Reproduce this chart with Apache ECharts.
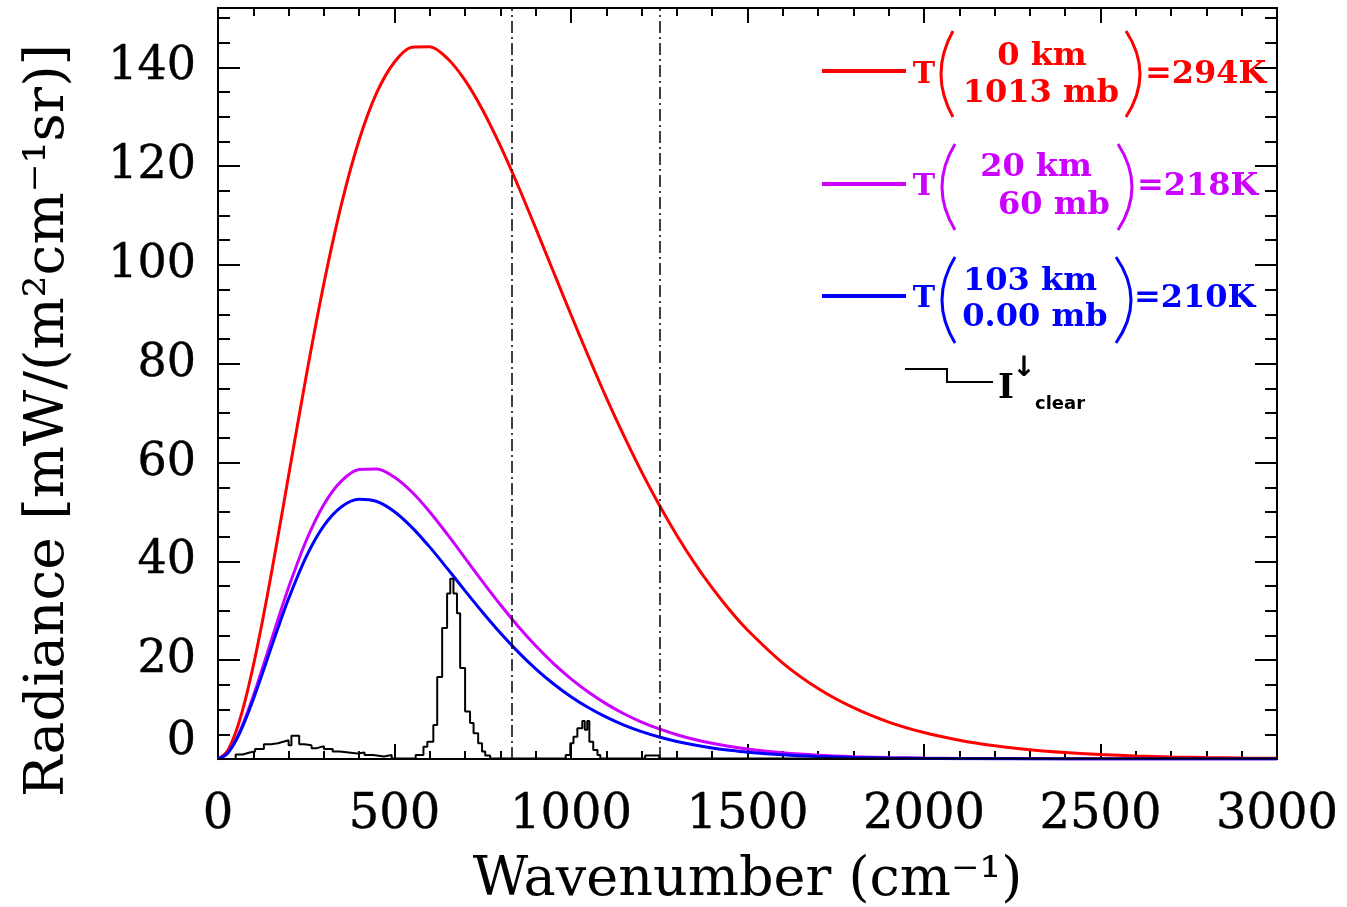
<!DOCTYPE html>
<html>
<head>
<meta charset="utf-8">
<script src="https://cdn.jsdelivr.net/npm/echarts@6/dist/echarts.min.js"></script>
<style>
html,body{margin:0;padding:0;background:#ffffff;}
#chart{width:1347px;height:907px;}
</style>
</head>
<body>
<div id="chart"></div>
<script>
// ---------------- data ----------------
const wavenumber = [0,25,50,75,100,125,150,175,200,250,300,350,400,450,500,550,600,650,700,750,800,850,900,950,1000,1050,1100,1150,1200,1250,1300,1350,1400,1450,1500,1600,1700,1800,1900,2000,2100,2200,2300,2400,2500,2600,2700,2800,2900,3000];
const radiance294K = [0,1.43,5.37,11.33,18.87,27.58,37.09,47.12,57.36,77.57,96.24,112.36,125.32,134.90,141.07,144.06,144.15,141.78,137.35,131.32,124.09,116.03,107.44,98.67,89.92,81.37,73.15,65.39,58.12,51.41,45.25,39.66,34.63,30.11,26.10,19.41,14.27,10.39,7.48,5.35,3.80,2.68,1.88,1.31,0.91,0.62,0.43,0.29,0.20,0.14];
const radiance218K = [0,1.04,3.81,7.85,12.74,18.15,23.77,29.36,34.73,44.23,51.51,56.28,58.58,58.69,57.02,53.98,50.00,45.45,40.65,35.85,31.21,26.88,22.91,19.36,16.23,13.50,11.16,9.16,7.48,6.08,4.92,3.96,3.17,2.54,2.02,1.27,0.78,0.48,0.29,0.18,0.11,0.06,0.04,0.02,0.01,0.01,0,0,0,0];
const radiance210K = [0,1.00,3.64,7.48,12.10,17.17,22.40,27.55,32.45,40.95,47.22,51.06,52.58,52.11,50.05,46.84,42.88,38.52,34.03,29.65,25.50,21.69,18.26,15.24,12.62,10.36,8.46,6.86,5.53,4.44,3.55,2.82,2.23,1.76,1.38,0.85,0.51,0.31,0.18,0.11,0.06,0.04,0.02,0.01,0.01,0,0,0,0,0];
// clear-sky downward spectrum (step histogram: bin start -> value)
const clearNu = [0,50,70,90,105,130,150,170,190,200,208,230,245,265,280,300,325,345,370,395,415,440,470,492,560,582,593,610,621,635,649,658,667,677,686,700,714,724,737,748,757,771,985,998,1007,1018,1032,1039,1046,1052,1063,1075,1083,1210,1250,3000];
const clearRadiance = [0,0.9,1.3,1.5,2.0,3.0,3.2,3.6,3.8,2.8,4.7,3.0,2.8,2.2,2.6,2.0,1.5,1.3,1.1,1.3,0.8,0.5,0.8,0.1,0.8,2.5,3.5,6.9,16.6,26.5,33.5,36.5,33.5,29.5,18.4,9.6,7.3,5.2,3.2,1.5,0.7,0.1,0.8,3.2,4.5,6.2,7.7,5.9,7.7,3.5,1.8,0.8,0.1,0.7,0.1,0.1];
const windowEdges = [833.3, 1250];
const xRange = [0, 3000];
const yRange = [0, 152];
const xMajor = 500, yMajor = 20, yMinor = 5;
const legendAltitude = ['0 km', '20 km', '103 km'];
const legendPressure = ['1013 mb', '60 mb', '0.00 mb'];
const legendTemperature = ['=294K', '=218K', '=210K'];
const legendClear = ['I', '↓', 'clear'];
const xTitle = 'Wavenumber (cm\u207B\u00B9)';
const yTitle = 'Radiance [mW/(m\u00B2cm\u207B\u00B9sr)]';

// ---------------- styles ----------------
const seriesColors = ['#ff0000', '#cc00ff', '#0000ff'];
const labelFont = 'DejaVu Serif';
const titleFont = 'DejaVu Serif';

function yAxisCfg(pos, interval, tickLen, withLabels) {
  const ax = {
    type: 'value', position: pos, min: yRange[0], max: yRange[1], interval: interval,
    axisLine: {show: true, onZero: false, lineStyle: {color: '#000', width: 2}},
    axisTick: {show: true, inside: true, length: tickLen, lineStyle: {color: '#000', width: 2}},
    splitLine: {show: false},
    axisLabel: {show: false}
  };
  if (withLabels) {
    ax.axisLabel = {
      show: true, margin: 22, showMaxLabel: false,
      fontFamily: labelFont, fontSize: 46, color: '#000',
      textBorderColor: '#000', textBorderWidth: 0.4,
      formatter: function (v) { if (v === 0) return '{z|0}'; return (v % yMajor === 0) ? String(v) : ''; },
      rich: {z: {fontFamily: labelFont, fontSize: 46, color: '#000', textBorderColor: '#000', textBorderWidth: 0.4, padding: [0, 0, 34, 0]}}
    };
    ax.name = yTitle;
    ax.nameLocation = 'middle';
    ax.nameRotate = 90;
    ax.nameGap = 142;
    ax.nameTextStyle = {fontFamily: titleFont, fontSize: 55, color: '#000', padding: [0, 74, 0, 0]};
  }
  return ax;
}
function xAxisCfg(pos, withLabels) {
  const ax = {
    type: 'value', position: pos, min: xRange[0], max: xRange[1], interval: xMajor,
    axisLine: {show: true, onZero: false, lineStyle: {color: '#000', width: 2}},
    axisTick: {show: true, inside: true, length: 15, lineStyle: {color: '#000', width: 2}},
    minorTick: {show: true, splitNumber: 5, length: 8, lineStyle: {color: '#000', width: 2}},
    splitLine: {show: false}, minorSplitLine: {show: false},
    axisLabel: {show: false}
  };
  if (withLabels) {
    ax.axisLabel = {show: true, margin: 33, fontFamily: labelFont, fontSize: 48, color: '#000',
      textBorderColor: '#000', textBorderWidth: 0.4,
      formatter: function (v) { return String(v); }};
    ax.name = xTitle;
    ax.nameLocation = 'middle';
    ax.nameGap = 95;
    ax.nameTextStyle = {fontFamily: titleFont, fontSize: 54, color: '#000'};
  }
  return ax;
}

// ---------------- legend (decorative graphic) ----------------
const legendRows = [
  {lineY: 71, top: 31, bottom: 117, lp: 953, lb: 941, rp: 1126, rb: 1140, altX: 1042, altY: 57, presX: 1041, presY: 94, tY: 75, eqX: 1145},
  {lineY: 184, top: 144, bottom: 230, lp: 955, lb: 942, rp: 1118, rb: 1132, altX: 1036, altY: 168, presX: 1054, presY: 206, tY: 187, eqX: 1137},
  {lineY: 296, top: 257, bottom: 343, lp: 955, lb: 942, rp: 1116, rb: 1131, altX: 1030, altY: 282, presX: 1035, presY: 318, tY: 299, eqX: 1134}
];
const graphics = [];
const lf = 'bold 32px "DejaVu Serif"';
legendRows.forEach(function (r, i) {
  const c = seriesColors[i];
  graphics.push({type: 'line', shape: {x1: 822, y1: r.lineY, x2: 906, y2: r.lineY}, style: {stroke: c, lineWidth: 4}});
  graphics.push({type: 'text', x: 924, y: r.tY, style: {text: 'T', font: 'bold 30px "DejaVu Serif"', fill: c, textAlign: 'center', textVerticalAlign: 'middle', align: 'center', verticalAlign: 'middle'}});
  const midY = (r.top + r.bottom) / 2;
  graphics.push({type: 'bezierCurve', shape: {x1: r.lp, y1: r.top, x2: r.lp, y2: r.bottom, cpx1: 2 * r.lb - r.lp, cpy1: midY}, style: {stroke: c, lineWidth: 3, fill: null}});
  graphics.push({type: 'bezierCurve', shape: {x1: r.rp, y1: r.top, x2: r.rp, y2: r.bottom, cpx1: 2 * r.rb - r.rp, cpy1: midY}, style: {stroke: c, lineWidth: 3, fill: null}});
  graphics.push({type: 'text', x: r.altX, y: r.altY, style: {text: legendAltitude[i], font: lf, fill: c, textAlign: 'center', textVerticalAlign: 'middle', align: 'center', verticalAlign: 'middle'}});
  graphics.push({type: 'text', x: r.presX, y: r.presY, style: {text: legendPressure[i], font: lf, fill: c, textAlign: 'center', textVerticalAlign: 'middle', align: 'center', verticalAlign: 'middle'}});
  graphics.push({type: 'text', x: r.eqX, y: r.tY, style: {text: legendTemperature[i], font: lf, fill: c, textAlign: 'left', textVerticalAlign: 'middle', align: 'left', verticalAlign: 'middle'}});
});
graphics.push({type: 'polyline', shape: {points: [[905, 369], [947, 369], [947, 382], [993, 382]]}, style: {stroke: '#000', lineWidth: 2, fill: null}});
graphics.push({type: 'text', x: 1006, y: 389, style: {text: legendClear[0], font: 'bold 34px "DejaVu Serif"', fill: '#000', textAlign: 'center', textVerticalAlign: 'middle', align: 'center', verticalAlign: 'middle'}});
graphics.push({type: 'text', x: 1024, y: 369, style: {text: legendClear[1], font: 'bold 28px "DejaVu Sans"', fill: '#000', textAlign: 'center', textVerticalAlign: 'middle', align: 'center', verticalAlign: 'middle'}});
graphics.push({type: 'text', x: 1060, y: 404, style: {text: legendClear[2], font: 'bold 18px "DejaVu Sans"', fill: '#000', textAlign: 'center', textVerticalAlign: 'middle', align: 'center', verticalAlign: 'middle'}});

// ---------------- chart ----------------
const chart = echarts.init(document.getElementById('chart'), null, {renderer: 'canvas'});
function pairs(xs, ys) { return xs.map(function (x, i) { return [x, ys[i]]; }); }
chart.setOption({
  animation: false,
  backgroundColor: '#ffffff',
  grid: {left: 218, right: 70, top: 8, bottom: 148, containLabel: false, outerBoundsMode: 'none'},
  xAxis: [xAxisCfg('bottom', true), xAxisCfg('top', false)],
  yAxis: [
    yAxisCfg('left', yMajor, 22, true),
    yAxisCfg('left', yMinor, 12, false),
    yAxisCfg('right', yMajor, 22, false),
    yAxisCfg('right', yMinor, 12, false)
  ],
  series: [
    {type: 'line', name: 'T294', data: pairs(wavenumber, radiance294K), showSymbol: false, symbol: 'none', smooth: 0.3,
      lineStyle: {color: seriesColors[0], width: 3}, z: 2,
      markLine: {silent: true, symbol: ['none', 'none'], label: {show: false},
        lineStyle: {color: '#000', width: 1.5, type: [12, 4, 2, 4]},
        emphasis: {disabled: true},
        data: windowEdges.map(function (v) { return {xAxis: v}; })}},
    {type: 'line', name: 'T218', data: pairs(wavenumber, radiance218K), showSymbol: false, symbol: 'none', smooth: 0.3,
      lineStyle: {color: seriesColors[1], width: 3}, z: 3},
    {type: 'line', name: 'T210', data: pairs(wavenumber, radiance210K), showSymbol: false, symbol: 'none', smooth: 0.3,
      lineStyle: {color: seriesColors[2], width: 3}, z: 4},
    {type: 'line', name: 'clear', step: 'end', data: pairs(clearNu, clearRadiance), showSymbol: false, symbol: 'none',
      lineStyle: {color: '#000', width: 2}, z: 5}
  ],
  graphic: graphics
});
</script>
</body>
</html>
